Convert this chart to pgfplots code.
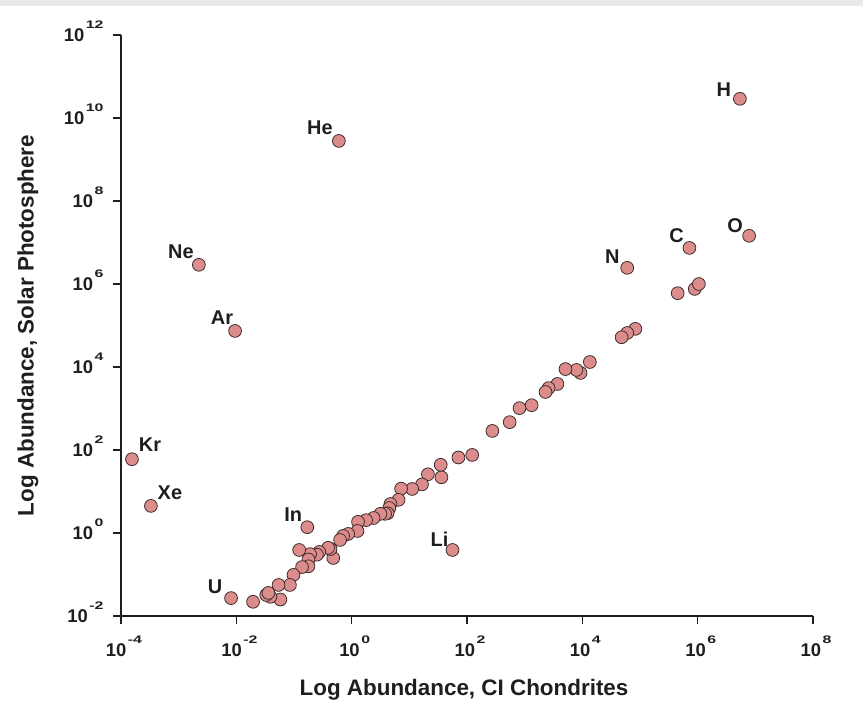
\documentclass[border=0pt]{standalone}
\usepackage{fontspec}
\setmainfont{Liberation Sans}
\usepackage{graphicx}
\usepackage{pgfplots}
\pgfplotsset{compat=1.18}
\definecolor{ptfill}{RGB}{221,140,140}
\definecolor{ptedge}{RGB}{60,45,45}
\definecolor{axcol}{RGB}{30,30,30}
\newcommand{\tl}[1]{{\fontsize{18.5}{18.5}\selectfont\bfseries 10\kern1.5bp\smash{\raisebox{13bp}{\scalebox{1.45}[1]{\fontsize{11}{11}\selectfont #1}}}}}
\begin{document}
\begin{tikzpicture}[x=1bp,y=1bp]
\useasboundingbox (0,0) rectangle (863,715);
\fill[gray!18] (0,709) rectangle (863,715);
\begin{axis}[
  at={(121bp,99bp)}, anchor=south west,
  scale only axis, width=692bp, height=581bp,
  xmode=log, ymode=log,
  xmin=1e-4, xmax=1e8, ymin=1e-2, ymax=1e12,
  axis x line*=bottom, axis y line*=left,
  axis line style={-, line width=1.6bp, color=axcol},
  xminorticks=false, yminorticks=false,
  tick align=outside, major tick length=8bp,
  tick style={line width=1.5bp, color=axcol},
  xtick={1e-4,1e-2,1,1e2,1e4,1e6,1e8},
  xticklabels={\tl{-4},\tl{-2},\tl{0},\tl{2},\tl{4},\tl{6},\tl{8}},
  ytick={1e-2,1,1e2,1e4,1e6,1e8,1e10,1e12},
  yticklabels={\tl{-2},\tl{0},\tl{2},\tl{4},\tl{6},\tl{8},\tl{10},\tl{12}},
  xticklabel style={text=axcol, yshift=-16bp, xshift=3bp},
  yticklabel style={text=axcol, xshift=-6bp},
  xlabel={Log Abundance, CI Chondrites},
  ylabel={Log Abundance, Solar Photosphere},
  every axis x label/.style={at={(axis description cs:0.4957,-0.1274)}, anchor=center},
  every axis y label/.style={at={(axis description cs:-0.1344,0.5)}, anchor=center, rotate=90},
  label style={font=\fontsize{22.5}{22.5}\selectfont\bfseries, text=axcol},
  clip=false,
]
\addplot[only marks, mark=*, mark size=6.4bp, mark options={fill=ptfill, draw=ptedge, line width=0.8bp}] coordinates {
(5.4e6,2.9e10) (0.60,2.8e9) (7.2e5,7.4e6) (7.8e6,1.45e7) (6.0e4,2.45e6)
(2.24e-3,2.9e6) (9.5e-3,7.4e4) (1.55e-4,60) (3.3e-4,4.5) (0.17,1.38)
(56,0.39) (8.1e-3,0.027)
(4.5e5,6.0e5) (8.9e5,7.6e5) (1.05e6,1.0e6)
(8.3e4,8.3e4) (6.0e4,6.6e4) (4.8e4,5.2e4)
(1.35e4,1.32e4) (9.3e3,7.2e3) (7.9e3,8.5e3) (5.1e3,8.9e3)
(3.7e3,3.9e3) (2.6e3,3.1e3) (2.3e3,2.5e3)
(1.32e3,1.2e3) (813,1.02e3) (550,468) (275,288)
(123,76) (71,66) (36,22) (35,44) (21,26) (16.6,14.8) (11.2,11.5) (7.2,11.7)
(6.5,6.3) (4.7,5.0) (4.5,4.0) (4.2,3.0) (3.8,2.9) (3.16,2.9) (2.4,2.3) (1.78,2.04)
(1.29,1.86) (1.26,1.12) (0.87,0.95) (0.71,0.85) (0.63,0.68)
(0.48,0.25) (0.43,0.41) (0.39,0.44) (0.275,0.35) (0.25,0.30) (0.19,0.31)
(0.178,0.23) (0.123,0.39) (0.178,0.158) (0.138,0.151) (0.098,0.098)
(0.085,0.056) (0.058,0.025) (0.054,0.056) (0.039,0.029) (0.033,0.032)
(0.036,0.036) (0.0195,0.022)
};
\tikzset{lab/.style={font=\fontsize{20}{20}\selectfont\bfseries, text=axcol, anchor=center}}
\node[lab, xshift=-16bp, yshift=9bp]  at (axis cs:5.4e6,2.9e10) {H};
\node[lab, xshift=-19bp, yshift=13bp] at (axis cs:0.60,2.8e9) {He};
\node[lab, xshift=-13bp, yshift=12bp] at (axis cs:7.2e5,7.4e6) {C};
\node[lab, xshift=-14bp, yshift=10bp] at (axis cs:7.8e6,1.45e7) {O};
\node[lab, xshift=-15bp, yshift=11bp] at (axis cs:6.0e4,2.45e6) {N};
\node[lab, xshift=-18bp, yshift=13bp] at (axis cs:2.24e-3,2.9e6) {Ne};
\node[lab, xshift=-13bp, yshift=13bp] at (axis cs:9.5e-3,7.4e4) {Ar};
\node[lab, xshift=18bp, yshift=15bp]  at (axis cs:1.55e-4,60) {Kr};
\node[lab, xshift=19bp, yshift=13bp]  at (axis cs:3.3e-4,4.5) {Xe};
\node[lab, xshift=-14bp, yshift=13bp] at (axis cs:0.17,1.38) {In};
\node[lab, xshift=-13bp, yshift=11bp] at (axis cs:56,0.39) {Li};
\node[lab, xshift=-16bp, yshift=11bp] at (axis cs:8.1e-3,0.027) {U};
\end{axis}
\end{tikzpicture}
\end{document}
